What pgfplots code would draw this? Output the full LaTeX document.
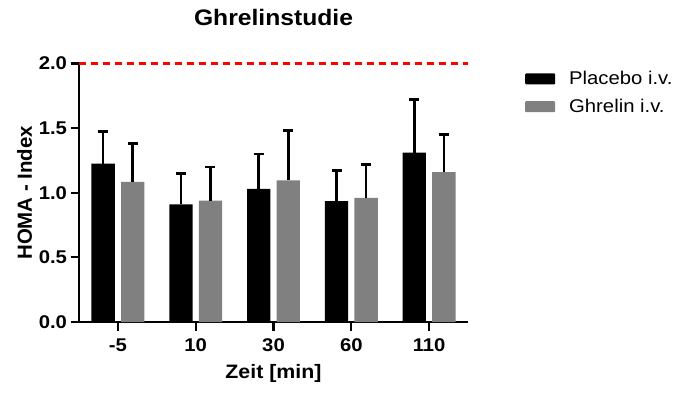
\documentclass[border=0pt]{standalone}
\usepackage{pgfplots}
\pgfplotsset{compat=1.18}
\usepackage{fontspec}
\setmainfont{Liberation Sans}[FakeStretch=1.1]
\newfontfamily\ylabfont{Liberation Sans}
\definecolor{bargray}{RGB}{128,128,128}
\begin{document}
\begin{tikzpicture}[x=1bp,y=1bp]
\useasboundingbox (0,0) rectangle (680,392);
\begin{axis}[
  at={(79bp,70bp)}, anchor=south west,
  scale only axis, width=389bp, height=258.5bp,
  xmin=-0.5, xmax=4.5, ymin=0, ymax=2,
  axis x line*=bottom, axis y line*=left,
  axis line style={line width=2.2bp, black},
  xtick={0,1,2,3,4}, xticklabels={-5,10,30,60,110},
  ytick={0,0.5,1,1.5,2},
  yticklabel style={/pgf/number format/.cd, fixed, fixed zerofill, precision=1},
  /pgf/number format/assume math mode=true,
  tick align=outside, major tick length=8.5bp,
  tick style={line width=2.2bp, black},
  ticklabel style={font=\bfseries\fontsize{18.5}{18.5}\selectfont},
  xticklabel style={yshift=-4.5bp},
  xlabel={Zeit [min]}, ylabel={HOMA - Index},
  xlabel style={font=\bfseries\fontsize{19.5}{19.5}\selectfont, at={(axis description cs:0.5,-0.2)}, anchor=center},
  ylabel style={font=\ylabfont\bfseries\fontsize{20.5}{20.5}\selectfont, at={(axis description cs:-0.14,0.5)}, anchor=center},
  title={Ghrelinstudie},
  title style={font=\bfseries\fontsize{22.5}{22.5}\selectfont, at={(axis description cs:0.5,1.153)}, anchor=center},
  clip=false,
  ybar, bar width=0.3,
  legend style={at={(axis description cs:1.1465,0.97)}, anchor=north west, draw=none,
    font=\fontsize{18.5}{18.5}\selectfont, column sep=14bp, row sep=13bp, inner sep=0bp,
    nodes={inner sep=0bp}},
  legend cell align=left,
]
\addplot[fill=black, draw=none, bar shift=-0.19,
  error bars/.cd, y dir=plus, y explicit,
  error bar style={line width=2.6bp, black},
  error mark options={line width=2.6bp, mark size=5bp, rotate=90, black},
  /pgfplots/legend image code/.code={\fill[black, rounded corners=1bp] (0bp,-5.5bp) rectangle (30bp,5.5bp);}]
  coordinates {(0,1.225) += (0,0.25) (1,0.91) += (0,0.24) (2,1.03) += (0,0.27)
               (3,0.935) += (0,0.235) (4,1.31) += (0,0.41)};
\addlegendentry{Placebo i.v.}
\addplot[fill=bargray, draw=none, bar shift=0.19,
  error bars/.cd, y dir=plus, y explicit,
  error bar style={line width=2.6bp, black},
  error mark options={line width=2.6bp, mark size=5bp, rotate=90, black},
  /pgfplots/legend image code/.code={\fill[bargray, rounded corners=1bp] (0bp,-5.5bp) rectangle (30bp,5.5bp);}]
  coordinates {(0,1.085) += (0,0.295) (1,0.94) += (0,0.26) (2,1.095) += (0,0.385)
               (3,0.96) += (0,0.26) (4,1.16) += (0,0.29)};
\addlegendentry{Ghrelin i.v.}
\addplot[sharp plot, red, line width=2.5bp, dash pattern=on 7bp off 5bp, forget plot]
  coordinates {(-0.5,2) (4.5,2)};
\end{axis}
\end{tikzpicture}
\end{document}
